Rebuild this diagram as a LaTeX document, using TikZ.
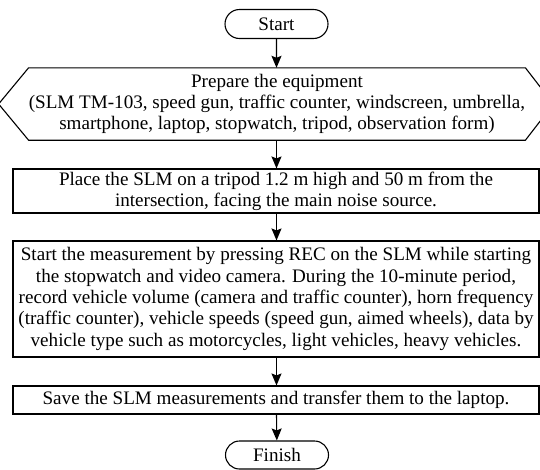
\documentclass[tikz,border=0pt]{standalone}
\usepackage{fontspec}
\setmainfont{Liberation Serif}
\usetikzlibrary{shapes.misc,arrows.meta}
\begin{document}
\begin{tikzpicture}[x=1pt,y=1pt,
  txt/.style={font=\fontsize{19.1}{21.3}\selectfont, align=center, inner sep=0pt},
  terminal/.style={txt, draw, rounded rectangle, line width=1.1pt, minimum width=103pt, minimum height=29pt},
  procbox/.style={txt, draw, rectangle, line width=1.1pt, minimum width=526pt},
  flow/.style={line width=1.1pt, -{Stealth[length=12pt,width=10pt,inset=2pt]}}
]
\useasboundingbox (0,0) rectangle (540,-469);

\node[terminal] (start) at (276.5,-24) {Start};

% preparation step drawn as a hexagon around its text
\node[txt, minimum width=468pt, minimum height=72pt] (prep) at (277,-104)
  {Prepare the equipment\\
   (SLM TM-103, speed gun, traffic counter, windscreen, umbrella,\\
   smartphone, laptop, stopwatch, tripod, observation form)};
\draw[line width=1.1pt] (prep.north west) -- (prep.north east) -- ([xshift=28pt]prep.east)
  -- (prep.south east) -- (prep.south west) -- ([xshift=-30pt]prep.west) -- cycle;

\node[procbox, minimum height=44pt] (place) at (276,-191)
  {Place the SLM on a tripod 1.2 m high and 50 m from the\\
   intersection, facing the main noise source.};

\node[procbox, minimum height=116pt] (measure) at (276,-299)
  {Start the measurement by pressing REC on the SLM while starting\\
   the stopwatch and video camera. During the 10-minute period,\\
   record vehicle volume (camera and traffic counter), horn frequency\\
   (traffic counter), vehicle speeds (speed gun, aimed wheels), data by\\
   vehicle type such as motorcycles, light vehicles, heavy vehicles.};

\node[procbox, minimum height=28pt] (save) at (276,-400)
  {Save the SLM measurements and transfer them to the laptop.};

\node[terminal, minimum height=28pt] (finish) at (277,-455) {Finish};

\draw[flow] (start) -- (start |- prep.north);
\draw[flow] (prep.south -| start) -- (start |- place.north);
\draw[flow] (place.south -| start) -- (start |- measure.north);
\draw[flow] (measure.south -| start) -- (start |- save.north);
\draw[flow] (save.south -| start) -- (finish);
\end{tikzpicture}
\end{document}
